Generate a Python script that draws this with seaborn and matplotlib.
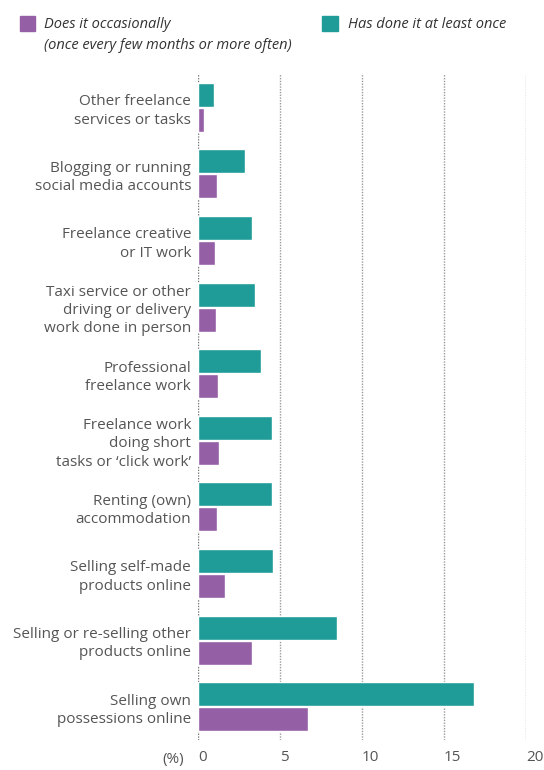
import pandas as pd
import seaborn as sns
import matplotlib.pyplot as plt
from matplotlib.patches import Rectangle

# Categories and values (%).
categories = [
    "Other freelance\nservices or tasks",
    "Blogging or running\nsocial media accounts",
    "Freelance creative\nor IT work",
    "Taxi service or other\ndriving or delivery\nwork done in person",
    "Professional\nfreelance work",
    "Freelance work\ndoing short\ntasks or \u2018click work\u2019",
    "Renting (own)\naccommodation",
    "Selling self-made\nproducts online",
    "Selling or re-selling other\nproducts online",
    "Selling own\npossessions online",
]
at_least_once = [1.0, 2.85, 3.3, 3.45, 3.85, 4.5, 4.5, 4.6, 8.5, 16.8]
occasionally = [0.35, 1.15, 1.05, 1.1, 1.2, 1.3, 1.15, 1.65, 3.3, 6.7]
xticks = [0, 5, 10, 15, 20]

once_lbl = "Has done it at least once"
occ_lbl = "Does it occasionally\n(once every few months or more often)"
teal = "#1f9b98"
purple = "#955fa5"

df = pd.DataFrame({
    "category": categories * 2,
    "value": at_least_once + occasionally,
    "series": [once_lbl] * len(categories) + [occ_lbl] * len(categories),
})

sns.set_style("white")
plt.rcParams["font.family"] = ["Open Sans", "DejaVu Sans"]

fig = plt.figure(figsize=(5.44, 7.7), dpi=100)
ax = fig.add_axes([0.364, 0.039, 0.603, 0.865])

sns.barplot(
    data=df, y="category", x="value", hue="series",
    hue_order=[once_lbl, occ_lbl], palette=[teal, purple], saturation=1,
    orient="h", width=0.75, gap=0.04, legend=False, ax=ax,
)

ax.set_xlim(0, 20)
ax.set_ylim(9.5, -0.5)
ax.set_xticks(xticks)
ax.set_xticklabels([str(t) for t in xticks], ha="left")
ax.tick_params(axis="x", length=0, pad=7, labelsize=11, labelcolor="#555555")
ax.tick_params(axis="y", length=0, pad=5, labelsize=11, labelcolor="#555555")
for lbl in ax.get_yticklabels():
    lbl.set_multialignment("right")
    lbl.set_linespacing(1.3)
ax.set_xlabel("")
ax.set_ylabel("")

# Dotted gridlines, drawn behind the bars
ax.set_axisbelow(True)
for t in xticks:
    ax.axvline(t, color="#9a9a9a" if t else "#777777", linestyle=(0, (1, 1)),
               linewidth=1, zorder=0)
for s in ax.spines.values():
    s.set_visible(False)

# (%) label
fig.text(184 / 544, 1 - 759 / 770, "(%)", ha="right", va="center",
         fontsize=11, color="#555555")

# Legend at the top
fig.patches.append(Rectangle((20 / 544, 1 - 31 / 770), 15 / 544, 15 / 770,
                             transform=fig.transFigure, color=purple))
fig.text(44 / 544, 1 - 17 / 770, occ_lbl, ha="left", va="top",
         fontsize=10.5, style="italic", color="#333333", linespacing=1.55)
fig.patches.append(Rectangle((322 / 544, 1 - 31 / 770), 16 / 544, 15 / 770,
                             transform=fig.transFigure, color=teal))
fig.text(348 / 544, 1 - 17 / 770, once_lbl, ha="left", va="top",
         fontsize=10.5, style="italic", color="#333333")

fig.savefig("out.png", dpi=100)
